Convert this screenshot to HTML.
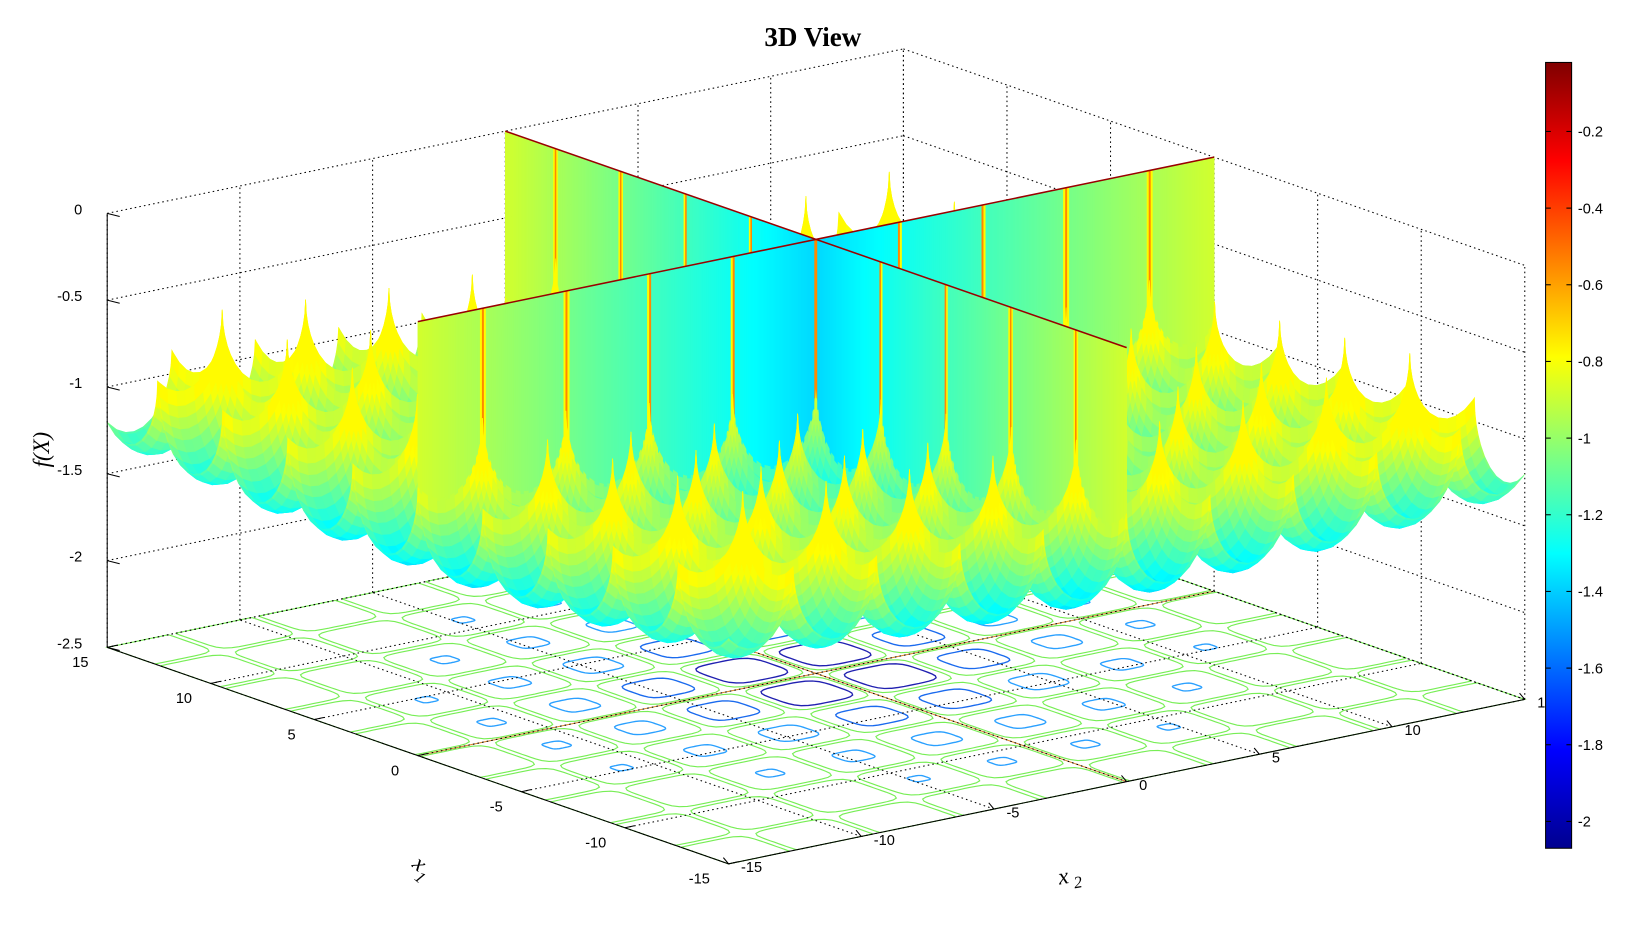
<!DOCTYPE html>
<html><head><meta charset="utf-8">
<style>
body{margin:0;background:#fff;}
svg text{font-family:"Liberation Sans",sans-serif;font-size:14px;fill:#000;}
</style></head>
<body>
<svg id="s" width="1632" height="945" xmlns="http://www.w3.org/2000/svg">
<defs>
<linearGradient id="jet" x1="0" y1="1" x2="0" y2="0">
<stop offset="0" stop-color="#00008f"/>
<stop offset="0.125" stop-color="#0000ff"/>
<stop offset="0.375" stop-color="#00ffff"/>
<stop offset="0.625" stop-color="#ffff00"/>
<stop offset="0.875" stop-color="#ff0000"/>
<stop offset="1" stop-color="#800000"/>
</linearGradient>
</defs>
<g transform="scale(1.0408)">
<g id="floor"></g>
<g id="box" stroke="#000" stroke-width="1" stroke-dasharray="1.5,3" fill="none"></g>
<g id="surf"></g>
<g id="axes"></g>
<text x="781" y="44" text-anchor="middle" style="font-family:'Liberation Serif',serif;font-weight:bold;font-size:26px">3D View</text>
<rect x="1485" y="60" width="25" height="755" fill="url(#jet)" stroke="#000" stroke-width="1"/>
<g id="cb"></g>
<text transform="translate(47,432) rotate(-90)" text-anchor="middle" style="font-family:'Liberation Serif',serif;font-style:italic;font-size:22px">f(X)</text>
<text transform="translate(395,832) rotate(40)" style="font-family:'Liberation Serif',serif;font-style:italic;font-size:22px">x<tspan dy="8" font-size="16">1</tspan></text>
<text transform="translate(1018,850) rotate(-10)" style="font-family:'Liberation Serif',serif;font-style:italic;font-size:22px">x<tspan dy="6" font-size="16"> 2</tspan></text>
</g>
</svg>
<script>
const NS="http://www.w3.org/2000/svg";
function P(x1,x2,z){const u=(x1+15)/30,v=(x2+15)/30;
return [700+u*(103-700)+v*(1465-700), 830+u*(622-830)+v*(672-830)-(z+2.5)/2.5*417];}
function jet(val){let t=(val+2.07)/2.05;t=Math.max(0,Math.min(1,t));
const c=x=>Math.round(255*Math.max(0,Math.min(1,x)));
return `rgb(${c(1.5-Math.abs(4*t-3))},${c(1.5-Math.abs(4*t-2))},${c(1.5-Math.abs(4*t-1))})`;}
const p=Math.PI;
function loc(x){let m=x/p-Math.floor(x/p);let s=m*2-1;s=Math.max(-1,Math.min(1,s));return 1-Math.sqrt(1-s*s);}
function g(x1,x2){return loc(x1)+loc(x2);}
function rr(x1,x2){return Math.sqrt(x1*x1+x2*x2)/21.2;}
function f(x1,x2){return -1.72+0.37*Math.pow(rr(x1,x2),1.2)+0.45*g(x1,x2);}
function col(x1,x2){const gg=g(x1,x2);let c=-1.25-0.45*(1-rr(x1,x2))+0.55*Math.pow(gg,0.8);
 if(gg>1.75)c=Math.min(-0.6,-0.75+(gg-1.75)*0.6);else c=Math.min(-0.78,c);return c;}
function el(tag,at,parent){const e=document.createElementNS(NS,tag);for(const k in at)e.setAttribute(k,at[k]);parent.appendChild(e);return e;}
function pts(a){return a.map(q=>q[0].toFixed(1)+","+q[1].toFixed(1)).join(" ");}
const fl=document.getElementById("floor");
const cl=v=>Math.max(-15,Math.min(15,v));
for(let i=-5;i<5;i++)for(let j=-5;j<5;j++){
 const cx=(i+0.5)*p,cy=(j+0.5)*p;
 let poly=[];const h=1.45;
 for(let k=0;k<48;k++){const an=k/48*2*Math.PI;const ca=Math.cos(an),sa=Math.sin(an);
  const n=Math.pow(Math.pow(Math.abs(ca),6)+Math.pow(Math.abs(sa),6),1/6);
  poly.push(P(cl(cx+h*ca/n),cl(cy+h*sa/n),-2.5));}
 el("polygon",{points:pts(poly),fill:"none",stroke:"#77ee55","stroke-width":1.1},fl);
 const d=Math.sqrt(cx*cx+cy*cy);
 if(d<12){const s=1.15*(1-d/13)+0.2;poly=[];
  for(let k=0;k<40;k++){const an=k/40*2*Math.PI;const ca=Math.cos(an),sa=Math.sin(an);
   const n=Math.pow(Math.pow(Math.abs(ca),4)+Math.pow(Math.abs(sa),4),1/4);
   poly.push(P(cx+s*ca/n,cy+s*sa/n,-2.5));}
  el("polygon",{points:pts(poly),fill:"none",stroke:d<3?"#2020b0":(d<5?"#1a6aee":"#2aa0ff"),"stroke-width":1.3},fl);}
}
el("line",{x1:P(0,-15,-2.5)[0],y1:P(0,-15,-2.5)[1],x2:P(0,15,-2.5)[0],y2:P(0,15,-2.5)[1],stroke:"#dd8833","stroke-width":1},fl);
el("line",{x1:P(-15,0,-2.5)[0],y1:P(-15,0,-2.5)[1],x2:P(15,0,-2.5)[0],y2:P(15,0,-2.5)[1],stroke:"#dd8833","stroke-width":1},fl);
const bx=document.getElementById("box");
function ln(a,b,gg,extra){const e=el("line",{x1:a[0],y1:a[1],x2:b[0],y2:b[1]},gg);if(extra)for(const k in extra)e.setAttribute(k,extra[k]);}
for(let t=-15;t<=15;t+=5){
 ln(P(15,t,-2.5),P(15,t,0),bx);ln(P(t,15,-2.5),P(t,15,0),bx);
 ln(P(t,-15,-2.5),P(t,15,-2.5),bx);ln(P(-15,t,-2.5),P(15,t,-2.5),bx);}
for(let z=-2.5;z<=0.001;z+=0.5){ln(P(15,-15,z),P(15,15,z),bx);ln(P(15,15,z),P(-15,15,z),bx);}
const xs=[-15];
const sub=[0,0.01,0.03,0.06,0.1,0.16,0.24,0.34,0.45,0.55,0.66,0.76,0.84,0.9,0.94,0.97,0.99];
for(let k=-5;k<5;k++)for(const q of sub){const x=(k+q)*p;if(x>-15&&x<15)xs.push(x);}
xs.push(15);xs.sort((a,b)=>a-b);
const items=[];
for(let i=0;i<xs.length-1;i++)for(let j=0;j<xs.length-1;j++){
 const a=xs[i],a2=xs[i+1],b=xs[j],b2=xs[j+1];
 const eps=1e-4;
 const z00=f(a+eps,b+eps),z10=f(a2-eps,b+eps),z11=f(a2-eps,b2-eps),z01=f(a+eps,b2-eps);
 items.push({d:(a+a2)/2+(b+b2)/2,pts:[P(a,b,z00),P(a2,b,z10),P(a2,b2,z11),P(a,b2,z01)],c:jet(col((a+a2)/2,(b+b2)/2))});
}
const M=400,ws=30/M;
function wallCol(s){let v=-1.38+0.5*Math.abs(s)/15;
 const m=((Math.abs(s)%p)+p)%p;const dd=Math.min(m,p-m);if(dd<0.04)v=-0.55;else if(dd<0.09)v=-0.78;return jet(v);}
for(let k=0;k<M;k++){const s=-15+k*ws,sm=s+ws/2;
 items.push({d:sm,pts:[P(0,s,0),P(0,s+ws,0),P(0,s+ws,f(0.001,s+ws)),P(0,s,f(0.001,s))],c:wallCol(sm)});
 items.push({d:sm,pts:[P(s,0,0),P(s+ws,0,0),P(s+ws,0,f(s+ws,0.001)),P(s,0,f(s,0.001))],c:wallCol(sm)});
}
items.sort((A,B)=>B.d-A.d);
const sf=document.getElementById("surf");let html="";
for(const it of items)html+=`<polygon points="${pts(it.pts)}" fill="${it.c}" stroke="${it.c}" stroke-width="0.6"/>`;
sf.innerHTML=html;
const ax=document.getElementById("axes");
ln(P(0,-15,0),P(0,15,0),ax,{stroke:"#990000","stroke-width":1.5});
ln(P(-15,0,0),P(15,0,0),ax,{stroke:"#990000","stroke-width":1.5});
ln(P(15,-15,-2.5),P(15,-15,0),ax,{stroke:"#000"});
ln(P(15,-15,-2.5),P(-15,-15,-2.5),ax,{stroke:"#000"});
ln(P(-15,-15,-2.5),P(-15,15,-2.5),ax,{stroke:"#000"});
for(let z=-2.5;z<=0.001;z+=0.5){const q=P(15,-15,z);ln(q,[q[0]+12,q[1]+3],ax,{stroke:"#000"});
 el("text",{x:q[0]-24,y:q[1]+1,"text-anchor":"end"},ax).textContent=(Math.abs(z)<1e-6?"0":String(Math.round(z*10)/10));}
for(let t=-15;t<=15;t+=5){
 let q=P(t,-15,-2.5);ln(q,[q[0]+9,q[1]-2],ax,{stroke:"#000"});
 el("text",{x:q[0]-18,y:q[1]+19,"text-anchor":"end"},ax).textContent=String(t);
 q=P(-15,t,-2.5);ln(q,[q[0]-5,q[1]-6],ax,{stroke:"#000"});
 el("text",{x:q[0]+12,y:q[1]+8},ax).textContent=String(t);
}
const cb=document.getElementById("cb");
for(let k=1;k<=10;k++){const v=-0.2*k;const y=60+(-0.02-v)/2.05*755;
 ln([1485,y],[1490,y],cb,{stroke:"#000"});ln([1505,y],[1510,y],cb,{stroke:"#000"});
 el("text",{x:1516,y:y+5},cb).textContent=(k==5?"-1":(k==10?"-2":v.toFixed(1)));}
</script>
</body></html>
